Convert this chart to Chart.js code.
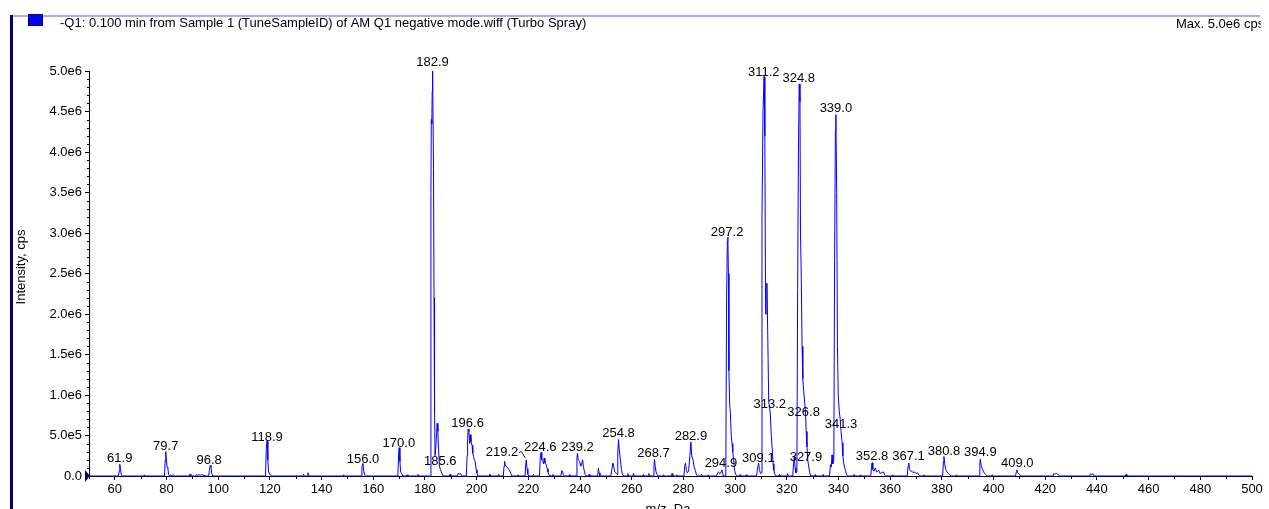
<!DOCTYPE html>
<html>
<head>
<meta charset="UTF-8">
<title>Q1 negative mode spectrum</title>
<script src="https://cdn.jsdelivr.net/npm/chart.js"></script>
<style>
  html, body { margin: 0; padding: 0; background: #fff; }
  #wrap { width: 1269px; height: 509px; position: relative; }
</style>
</head>
<body>
<div id="wrap"><canvas id="spectrum"></canvas></div>
<script>
// profile spectrum, m/z (Da) and intensity (cps)
const mz = [
  50.0,
  61.4, 61.7, 61.9, 62.2, 62.5, 62.8,
  71.2, 71.4, 71.7,
  79.2, 79.5, 79.7, 79.9, 80.2, 80.5, 80.8, 81.2, 81.6, 82.0, 82.6, 83.0,
  88.8, 89.1, 89.4, 89.9,
  91.2, 91.5, 92.0, 92.6, 93.2, 94.0, 94.5, 95.3,
  96.3, 96.6, 96.9, 97.2, 97.5, 97.9,
  118.3, 118.6, 118.9, 119.2, 119.5, 119.9, 120.5, 121.0,
  132.7, 133.0, 133.3, 134.4, 134.7, 135.0, 135.3,
  148.3, 148.5, 148.8,
  155.3, 155.6, 156.0, 156.3, 156.7, 157.0,
  169.5, 169.8, 170.0, 170.3, 170.6, 171.0, 171.4,
  172.8, 173.1, 173.4, 177.0, 177.3, 177.6,
  182.1, 182.3, 182.45, 182.65, 182.8, 182.9, 183.05, 183.3, 183.5, 183.7, 183.9, 184.3, 184.7, 185.0, 185.2, 185.6, 186.0, 186.5, 187.0,
  189.4, 189.7, 190.0, 192.4, 192.8, 193.3, 193.8, 194.1,
  196.0, 196.3, 196.5, 196.7, 197.0, 197.3, 197.5, 197.8, 198.2, 198.5, 198.8, 199.1, 199.4, 199.8, 200.1, 200.5,
  204.8, 205.1, 205.4, 208.2, 208.5, 208.8,
  210.3, 210.6, 210.8, 211.1, 211.4, 211.8, 212.3, 212.8, 213.2, 213.6,
  215.8, 216.1, 216.4,
  218.7, 219.0, 219.2, 219.5, 219.8, 220.2,
  221.7, 222.0, 222.3,
  224.3, 224.6, 224.9, 225.2, 225.6, 225.9, 226.1, 226.4, 226.9, 227.3, 227.6, 228.0, 228.3,
  229.2, 229.5, 229.8,
  232.6, 232.9, 233.2, 233.5, 233.8,
  235.7, 236.0, 236.3,
  238.5, 238.8, 239.0, 239.3, 239.8, 240.3, 240.7, 241.0, 241.3, 241.6, 242.0, 242.4,
  243.2, 243.5, 243.8,
  246.8, 247.1, 247.4, 247.7,
  251.9, 252.2, 252.7, 253.0, 253.4, 253.8, 254.3, 254.6, 254.9, 255.2, 255.6, 256.0, 256.4, 256.8,
  258.2, 258.5, 258.8, 260.4, 260.7, 261.0, 264.2, 264.5, 264.8, 266.3, 266.6, 266.9,
  268.3, 268.6, 268.8, 269.1, 269.4, 269.8, 270.2,
  272.0, 272.3, 272.6, 275.3, 275.6, 275.9, 277.2, 277.5, 277.8,
  280.2, 280.5, 280.8, 281.1, 281.5, 282.0, 282.5, 282.9, 283.2, 283.7, 284.1, 284.6, 285.0, 285.4,
  286.7, 287.0, 287.3, 289.2, 289.5, 289.8,
  292.8, 293.2, 293.6, 294.0, 294.5, 294.9, 295.2, 295.5,
  296.4, 296.7, 297.0, 297.2, 297.4, 297.6, 297.9, 298.2, 298.5, 298.8, 299.1, 299.4, 299.8, 300.2, 300.6,
  301.7, 302.0, 302.3, 304.2, 304.5, 304.8,
  308.3, 308.7, 309.1, 309.4, 309.8, 310.1, 310.4, 310.8, 311.2, 311.5, 311.8, 312.1, 312.3, 312.6, 313.0, 313.3, 313.6, 314.0, 314.3, 314.7, 315.0, 315.4, 315.8,
  316.9, 317.2, 317.5, 320.0, 320.3, 320.6,
  322.3, 322.6, 322.9, 323.2, 323.5, 323.9, 324.2, 324.5, 324.8, 325.1, 325.3, 325.6, 325.9, 326.2, 326.5, 326.8, 327.2, 327.5, 327.8, 328.1, 328.5, 328.9, 329.3,
  330.7, 331.0, 331.3, 333.7, 334.0, 334.3,
  336.5, 336.9, 337.2, 337.5, 337.8, 338.2, 338.5, 338.8, 339.0, 339.3, 339.6, 339.9, 340.3, 340.7, 341.0, 341.4, 341.7, 342.0, 342.4, 342.7, 343.1, 343.5,
  345.7, 346.0, 346.3, 348.2, 348.5, 348.8,
  352.5, 352.8, 353.0, 353.3, 353.7, 354.3, 354.7, 355.2, 355.6, 356.1, 356.6, 357.4, 357.9, 358.3,
  360.7, 361.0, 361.3,
  366.6, 366.9, 367.2, 367.5, 367.9, 368.4, 368.9, 369.5, 370.0, 370.6, 371.1, 371.5,
  372.7, 373.0, 373.3,
  380.3, 380.6, 380.8, 381.1, 381.5, 382.0, 382.5, 383.0, 383.5,
  385.4, 385.7, 386.0,
  394.4, 394.7, 394.9, 395.2, 395.6, 396.1, 396.5, 397.0, 397.5,
  399.2, 399.5, 399.8,
  408.5, 408.8, 409.0, 409.3, 409.7, 410.2, 410.6,
  423.0, 423.3, 423.8, 424.4, 425.0, 425.4,
  437.2, 437.5, 438.0, 438.5, 438.9,
  451.0, 451.3, 451.6,
  500.0
];
const cps = [
  0,
  0, 6e4, 1.45e5, 9e4, 1e4, 0,
  0, 1.5e4, 0,
  0, 2.0e5, 3.0e5, 2.2e5, 1.1e5, 1.0e5, 2e4, 0, 1.5e4, 5e3, 1.5e4, 0,
  0, 2.5e4, 5e3, 0,
  0, 1.5e4, 1e4, 1.5e4, 1.2e4, 1.5e4, 5e3, 0,
  0, 7e4, 1.3e5, 1.1e5, 3e4, 0,
  0, 3.4e5, 4.3e5, 2.0e5, 5e4, 2e4, 1e4, 0,
  0, 2e4, 0, 0, 4e4, 1.5e4, 0,
  0, 1.5e4, 0,
  0, 1.1e5, 1.55e5, 6e4, 1e4, 0,
  0, 2.6e5, 3.5e5, 1.8e5, 5e4, 3e4, 0,
  0, 1.5e4, 0, 0, 2e4, 0,
  0, 3.5e6, 4.4e6, 4.35e6, 4.75e6, 5.0e6, 4.9e6, 3.8e6, 2.2e6, 8e5, 2.5e5, 4.0e5, 6.5e5, 5.5e5, 3.6e5, 1.2e5, 8e4, 3.5e4, 0,
  0, 2e4, 0, 0, 3e4, 2.5e4, 3e4, 0,
  0, 2.5e5, 4.6e5, 5.8e5, 5.5e5, 4.0e5, 5.1e5, 4.2e5, 3.8e5, 2.8e5, 2.4e5, 2.0e5, 1.8e5, 8e4, 3.5e4, 0,
  0, 2.5e4, 0, 0, 2e4, 0,
  0, 1.2e5, 1.8e5, 1.4e5, 1.2e5, 1.1e5, 9e4, 6e4, 3.5e4, 0,
  0, 1.5e4, 0,
  0, 1.5e5, 2.0e5, 9e4, 2e4, 0,
  0, 2e4, 0,
  0, 2.2e5, 2.9e5, 2.0e5, 1.8e5, 1.5e5, 2.2e5, 1.6e5, 1.4e5, 9e4, 5e4, 1e4, 0,
  0, 2e4, 0,
  0, 6.5e4, 6e4, 2e4, 0,
  0, 2e4, 0,
  0, 2.2e5, 2.8e5, 2.0e5, 1.8e5, 1.2e5, 1.6e5, 2.0e5, 1.2e5, 7e4, 2e4, 0,
  0, 2e4, 0,
  0, 9.5e4, 4e4, 0,
  0, 6e4, 1.6e5, 1.2e5, 5e4, 4e4, 2e4, 3.0e5, 4.5e5, 3.2e5, 2.0e5, 8e4, 2e4, 0,
  0, 3e4, 0, 0, 3e4, 0, 0, 2e4, 0, 0, 3e4, 0,
  0, 1.4e5, 2.05e5, 1.2e5, 5e4, 2e4, 0,
  0, 1.5e4, 0, 0, 3e4, 0, 0, 1.5e4, 0,
  0, 1.2e5, 1.6e5, 8e4, 4e4, 6e4, 2.5e5, 4.2e5, 2.5e5, 2.0e5, 1.2e5, 7e4, 2e4, 0,
  0, 2e4, 0, 0, 1.5e4, 0,
  0, 4e4, 5e4, 3e4, 4e4, 7.5e4, 3e4, 0,
  0, 2.2e6, 2.9e6, 2.95e6, 2.5e6, 1.3e6, 8.8e5, 7.7e5, 5e5, 4.0e5, 3e5, 2.0e5, 7e4, 2e4, 0,
  0, 2e4, 0, 0, 2e4, 0,
  0, 1.0e5, 1.6e5, 8e4, 3e4, 4e4, 3.2e6, 4.5e6, 4.93e6, 4.2e6, 2.0e6, 2.0e6, 2.38e6, 1.8e6, 9.2e5, 8.5e5, 7.8e5, 5e5, 3.6e5, 1.5e5, 7e4, 2e4, 0,
  0, 2e4, 0, 0, 3e4, 0,
  0, 1.5e5, 2.4e5, 1.0e5, 4e4, 5e4, 2.3e6, 4.0e6, 4.84e6, 4.62e6, 3.0e6, 2.46e6, 1.6e6, 1.2e6, 1.06e6, 9.5e5, 8.1e5, 5.5e5, 3.6e5, 2e5, 1.1e5, 4e4, 0,
  0, 2e4, 0, 0, 2e4, 0,
  0, 1.4e5, 1.1e5, 2.6e5, 1.5e5, 2.0e5, 2.67e6, 4.27e6, 4.46e6, 3.5e6, 1.6e6, 1.0e6, 8e5, 6.9e5, 5.5e5, 4.1e5, 2.5e5, 1.6e5, 1.0e5, 7e4, 2e4, 0,
  0, 2e4, 0, 0, 1.5e4, 0,
  0, 1.2e5, 1.64e5, 8e4, 6e4, 1.0e5, 5e4, 6e4, 7e4, 3e4, 4e4, 5e4, 1e4, 0,
  0, 1.5e4, 0,
  0, 1.2e5, 1.6e5, 8e4, 6e4, 6e4, 4e4, 5e4, 3e4, 4e4, 1e4, 0,
  0, 1.5e4, 0,
  0, 1.8e5, 2.4e5, 1.5e5, 8e4, 5e4, 3e4, 2e4, 0,
  0, 1.5e4, 0,
  0, 1.5e5, 2.1e5, 1.3e5, 9e4, 6e4, 3e4, 2e4, 0,
  0, 1.5e4, 0,
  0, 5e4, 7.5e4, 4.5e4, 3e4, 1e4, 0,
  0, 3e4, 2.5e4, 3e4, 2e4, 0,
  0, 2.5e4, 2e4, 2.5e4, 0,
  0, 2e4, 0,
  0
];

// peak annotations: text, where the text sits (m/z, cps)
const peakLabels = ['61.9', '79.7', '96.8', '118.9', '156.0', '170.0', '182.9', '185.6', '196.6', '219.2',
  '224.6', '239.2', '254.8', '268.7', '282.9', '294.9', '297.2', '309.1', '311.2', '313.2',
  '324.8', '326.8', '327.9', '339.0', '341.3', '352.8', '367.1', '380.8', '394.9', '409.0'];
const labelMz = [61.9, 79.7, 96.5, 118.9, 156.0, 169.9, 182.9, 185.9, 196.5, 209.8,
  224.6, 239.0, 254.9, 268.4, 282.9, 294.5, 296.9, 309.0, 311.1, 313.4,
  324.6, 326.5, 327.4, 339.0, 341.0, 353.0, 367.1, 380.8, 394.9, 409.2];
const labelCps = [1.7e5, 3.2e5, 1.45e5, 4.35e5, 1.6e5, 3.6e5, 5.06e6, 1.3e5, 6.0e5, 2.5e5,
  3.1e5, 3.1e5, 4.8e5, 2.4e5, 4.5e5, 1.1e5, 2.96e6, 1.7e5, 4.94e6, 8.4e5,
  4.87e6, 7.4e5, 1.85e5, 4.49e6, 5.9e5, 2.0e5, 2.0e5, 2.6e5, 2.45e5, 1.1e5];

const xTicks = [60, 80, 100, 120, 140, 160, 180, 200, 220, 240, 260, 280, 300, 320, 340, 360, 380, 400, 420, 440, 460, 480, 500];
const yTicks = [0, 5e5, 1e6, 1.5e6, 2e6, 2.5e6, 3e6, 3.5e6, 4e6, 4.5e6, 5e6];

const titleText = '-Q1: 0.100 min from Sample 1 (TuneSampleID) of AM Q1 negative mode.wiff (Turbo Spray)';
const maxText = 'Max. 5.0e6 cps';

const FONT = '"Liberation Sans", Arial, sans-serif';

function sci(v) {
  if (v === 0) return '0.0';
  const e = Math.floor(Math.log10(v) + 1e-9);
  return (v / Math.pow(10, e)).toFixed(1) + 'e' + e;
}

const decor = {
  id: 'decor',
  beforeDraw(chart) {
    const c = chart.ctx;
    c.save();
    c.fillStyle = '#fff';
    c.fillRect(0, 0, chart.width, chart.height);
    // pane frame
    c.fillStyle = '#aab3d5';
    c.fillRect(12, 15, 1248, 2);
    c.fillStyle = '#00007f';
    c.fillRect(10, 15, 3, chart.height - 15);
    // legend swatch
    c.fillStyle = '#0000ff';
    c.fillRect(29, 15, 13, 10);
    c.strokeStyle = '#000080';
    c.lineWidth = 1;
    c.strokeRect(28.5, 14.5, 14, 11);
    c.fillStyle = '#000';
    c.font = '13px ' + FONT;
    c.textBaseline = 'middle';
    c.fillText(titleText, 60, 23);
    c.beginPath();
    c.rect(0, 0, 1261, 60);
    c.clip();
    c.fillText(maxText, 1176, 24);
    c.restore();
  },
  afterDraw(chart) {
    const c = chart.ctx;
    const xs = chart.scales.x, ys = chart.scales.y;
    const left = chart.chartArea.left, bottom = chart.chartArea.bottom;
    c.save();
    c.strokeStyle = '#000';
    c.lineWidth = 1;
    c.beginPath();
    // minor ticks
    for (let i = 1; i < 50; i++) {
      if (i % 5 === 0) continue;
      const y = Math.round(ys.getPixelForValue(i * 1e5)) + 0.5;
      c.moveTo(left - 2, y);
      c.lineTo(left, y);
    }
    for (let v = 50; v <= 500; v += 10) {
      if (v % 20 === 0) continue;
      const x = Math.round(xs.getPixelForValue(v)) + 0.5;
      c.moveTo(x, bottom);
      c.lineTo(x, bottom + 3);
    }
    c.stroke();

    // origin marker
    const x0 = xs.getPixelForValue(50), y0 = ys.getPixelForValue(0);
    c.fillStyle = '#00008b';
    c.beginPath();
    c.moveTo(x0 - 4, y0 - 6);
    c.lineTo(x0 + 1, y0);
    c.lineTo(x0 - 4, y0 + 6);
    c.closePath();
    c.fill();

    // peak labels
    c.fillStyle = '#000';
    c.font = '13px ' + FONT;
    c.textAlign = 'center';
    c.textBaseline = 'alphabetic';
    peakLabels.forEach((t, i) => {
      const px = xs.getPixelForValue(labelMz[i]);
      const py = ys.getPixelForValue(labelCps[i]);
      c.fillText(t, px, py);
      const peak = parseFloat(t);
      if (Math.abs(peak - labelMz[i]) > 3) {
        const w = c.measureText(t).width;
        const sx = px + w / 2 + 1, sy = py - 3;
        const ex = xs.getPixelForValue(peak) - 1, ey = py + 2;
        c.beginPath();
        c.moveTo(sx, sy);
        c.bezierCurveTo(sx + 3, sy - 3, ex - 4, ey - 5, ex, ey);
        c.stroke();
      }
    });

    // axis titles
    c.font = '13px ' + FONT;
    c.save();
    c.translate(21, 267);
    c.rotate(-Math.PI / 2);
    c.textBaseline = 'middle';
    c.fillText('Intensity, cps', 0, 0);
    c.restore();
    c.textBaseline = 'top';
    c.fillText('m/z, Da', 668, 503);
    c.restore();
  }
};

new Chart(document.getElementById('spectrum'), {
  type: 'line',
  data: {
    datasets: [{
      data: mz.map((x, i) => ({ x: x, y: cps[i] })),
      borderColor: '#0000ff',
      borderWidth: 1,
      pointRadius: 0,
      tension: 0,
      fill: false,
      clip: false
    }]
  },
  options: {
    responsive: true,
    maintainAspectRatio: false,
    animation: false,
    devicePixelRatio: 1,
    layout: { padding: { left: 0, top: 71, right: 17, bottom: 0 } },
    plugins: { legend: { display: false }, tooltip: { enabled: false } },
    scales: {
      x: {
        type: 'linear',
        min: 50,
        max: 500,
        z: 1,
        afterBuildTicks: s => { s.ticks = xTicks.map(v => ({ value: v })); },
        afterFit: s => { s.height = 33; },
        grid: { drawOnChartArea: false, tickLength: 4, color: '#000' },
        border: { color: '#000', width: 1 },
        ticks: { color: '#000', padding: 2, maxRotation: 0, autoSkip: false, font: { family: FONT, size: 13 } }
      },
      y: {
        type: 'linear',
        min: 0,
        max: 5e6,
        afterBuildTicks: s => { s.ticks = yTicks.map(v => ({ value: v })); },
        afterFit: s => { s.width = 89; },
        grid: { drawOnChartArea: false, tickLength: 4, color: '#000' },
        border: { color: '#000', width: 1 },
        ticks: { color: '#000', padding: 3, font: { family: FONT, size: 13 }, callback: v => sci(v) }
      }
    }
  },
  plugins: [decor]
});
</script>
</body>
</html>
